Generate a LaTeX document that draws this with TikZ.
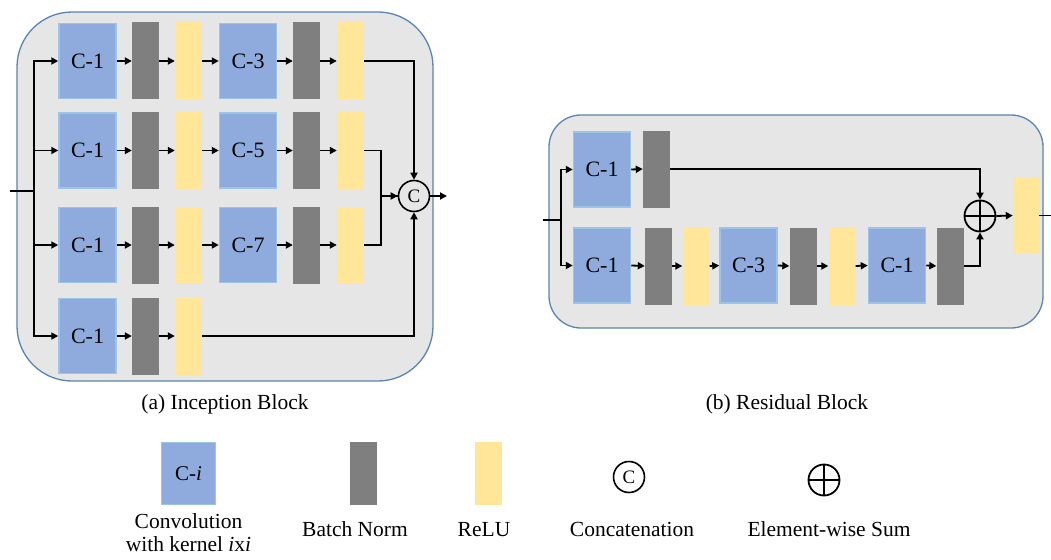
\documentclass[tikz,border=0pt]{standalone}
\usepackage{fontspec}
\setmainfont{Liberation Serif}
\usetikzlibrary{arrows.meta}
\definecolor{convfill}{HTML}{8FAADC}
\definecolor{convedge}{HTML}{9DC3E6}
\definecolor{bnfill}{HTML}{7F7F7F}
\definecolor{relufill}{HTML}{FFE699}
\definecolor{blockfill}{HTML}{E6E6E6}
\definecolor{blockedge}{HTML}{5B84B1}
\tikzset{
  convbox/.style={rectangle, fill=convfill, draw=convedge, line width=1.5pt, minimum width=57pt, minimum height=75pt, inner sep=0pt, font=\fontsize{22}{24}\selectfont},
  bnbox/.style={rectangle, fill=bnfill, minimum width=27pt, minimum height=77pt, inner sep=0pt},
  relubox/.style={rectangle, fill=relufill, minimum width=27pt, minimum height=77pt, inner sep=0pt},
  catnode/.style={circle, draw, line width=1.6pt, minimum size=31pt, inner sep=0pt, font=\fontsize{19}{19}\selectfont},
  sumnode/.style={circle, draw, line width=1.8pt, minimum size=31pt, inner sep=0pt},
  arr/.style={line width=1.8pt, -{Triangle[length=7pt,width=7pt]}},
  ln/.style={line width=1.8pt},
  blockbox/.style={fill=blockfill, draw=blockedge, line width=1.3pt},
  txt/.style={font=\fontsize{21.5}{23}\selectfont, inner sep=0pt, align=center},
  lbl/.style={txt, anchor=base},
}
\begin{document}
\begin{tikzpicture}[x=1pt,y=-1pt]
\useasboundingbox (0,0) rectangle (1051,559);
% ---------------- Inception block ----------------
\draw[blockbox, rounded corners=55pt] (17,12) rectangle (433,381);
\foreach \r/\y/\k in {1/61/3, 2/150.5/5, 3/245/7}{
  \node[convbox] (ic\r) at (87.5,\y) {C-1};
  \node[bnbox]   (ib\r) at (145.5,\y) {};
  \node[relubox] (ir\r) at (188.5,\y) {};
  \node[convbox] (id\r) at (248,\y) {C-\k};
  \node[bnbox]   (ie\r) at (306.5,\y) {};
  \node[relubox] (is\r) at (350.5,\y) {};
  \draw[arr] (ic\r.east) -- (ib\r.west);
  \draw[arr] (ib\r.east) -- (ir\r.west);
  \draw[arr] (ir\r.east) -- (id\r.west);
  \draw[arr] (id\r.east) -- (ie\r.west);
  \draw[arr] (ie\r.east) -- (is\r.west);
}
\node[convbox] (ic4) at (87.5,336) {C-1};
\node[bnbox]   (ib4) at (145.5,336) {};
\node[relubox] (ir4) at (188.5,336) {};
\draw[arr] (ic4.east) -- (ib4.west);
\draw[arr] (ib4.east) -- (ir4.west);
\node[catnode] (cat) at (414,196) {C};
\coordinate (iin) at (10,191);
\coordinate (ij) at (34,191);
\coordinate (iout) at (447,196);
\draw[ln] (iin) -- (ij);
\foreach \r in {1,2,3,4}{ \draw[arr] (ij) |- (ic\r.west); }
\draw[arr] (is1.east) -| (cat.north);
\draw[arr] (is2.east) -- ++(17,0) |- (cat.west);
\draw[ln] (is3.east) -- ++(17,0) |- (cat.west);
\draw[arr] (ir4.east) -| (cat.south);
\draw[arr] (cat.east) -- (iout);
\node[lbl] (capa) at (225,409) {(a) Inception Block};
% ---------------- Residual block ----------------
\draw[blockbox, rounded corners=32pt] (549,115) rectangle (1043,328);
\node[convbox] (rc1) at (602,169.5) {C-1};
\node[bnbox]   (rb1) at (656.5,169) {};
\node[convbox] (rc2) at (602,265.5) {C-1};
\node[bnbox]   (rb2) at (658.5,266) {};
\node[relubox] (rr2) at (696,266) {};
\node[convbox] (rc3) at (748.5,265.5) {C-3};
\node[bnbox]   (rb3) at (803,266) {};
\node[relubox] (rr3) at (842,266) {};
\node[convbox] (rc4) at (897,265.5) {C-1};
\node[bnbox]   (rb4) at (950,266) {};
\node[sumnode] (sum) at (980,216) {};
\draw[line width=1.8pt] (sum.north) -- (sum.south) (sum.west) -- (sum.east);
\node[relubox, minimum width=26pt, minimum height=75pt] (rr5) at (1026,215.5) {};
\coordinate (rin) at (543,220);
\coordinate (rj) at (561,220);
\coordinate (rout) at (1060,215.5);
\draw[ln] (rin) -- (rj);
\draw[arr] (rj) |- (rc1.west);
\draw[arr] (rj) |- (rc2.west);
\draw[arr] (rc1.east) -- (rb1.west);
\draw[arr] (rc2.east) -- (rb2.west);
\draw[arr] (rb2.east) -- (rr2.west);
\draw[arr] (rr2.east) -- (rc3.west);
\draw[arr] (rc3.east) -- (rb3.west);
\draw[arr] (rb3.east) -- (rr3.west);
\draw[arr] (rr3.east) -- (rc4.west);
\draw[arr] (rc4.east) -- (rb4.west);
\draw[arr] (rb1.east) -| (sum.north);
\draw[arr] (rb4.east) -| (sum.south);
\draw[arr] (sum.east) -- (rr5.west);
\draw[arr] (rr5.east) -- (rout);
\node[lbl] (capb) at (787,409) {(b) Residual Block};
% ---------------- Legend ----------------
\node[convbox, minimum width=54pt, minimum height=62pt, font=\fontsize{21}{23}\selectfont] (lc) at (188.5,473.5) {C-\textit{i}};
\node[lbl] (lct1) at (188.5,528) {Convolution};
\node[lbl] (lct2) at (188.5,551) {with kernel \textit{i}x\textit{i}};
\node[bnbox, minimum height=63pt] (lb) at (363,473.5) {};
\node[lbl] (lbt) at (355,536) {Batch Norm};
\node[relubox, minimum height=63pt] (lr) at (488,473.5) {};
\node[lbl] (lrt) at (484,536) {ReLU};
\node[catnode] (lcat) at (629,477) {C};
\node[lbl] (lcatt) at (632,536) {Concatenation};
\node[sumnode] (lsum) at (824,480) {};
\draw[line width=1.8pt] (lsum.north) -- (lsum.south) (lsum.west) -- (lsum.east);
\node[lbl] (lsumt) at (829,536) {Element-wise Sum};
\end{tikzpicture}
\end{document}
